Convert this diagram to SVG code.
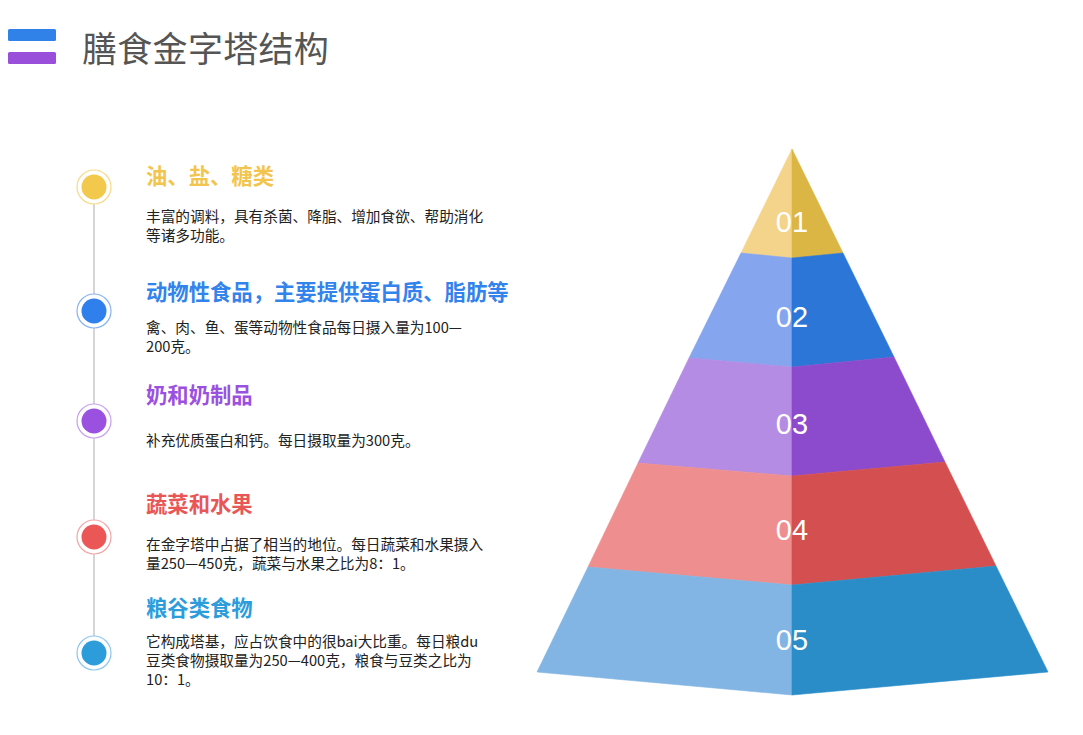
<svg xmlns="http://www.w3.org/2000/svg" width="1083" height="735" viewBox="0 0 1083 735">
<style>
.title{font-family:"Noto Sans CJK SC","Noto Sans CJK JP",serif;font-size:35px;fill:#555555;letter-spacing:0.3px;}
.head{font-family:"Noto Sans CJK SC",sans-serif;font-size:21.33px;font-weight:bold;}
.body{font-family:"Noto Sans CJK SC",sans-serif;font-size:14.67px;fill:#222222;}
.num{font-family:"Liberation Sans",Arial,sans-serif;font-size:29px;fill:#ffffff;text-anchor:middle;}
.ring{fill:#ffffff;stroke-width:1.2;}
.line{stroke:#c8c8c8;stroke-width:1.5;fill:none;}
.pl, .pr{stroke-width:0.6;stroke-linejoin:round;}
</style>
<rect width="1083" height="735" fill="#ffffff"/>
<g id="title">
  <rect x="8" y="29" width="48" height="12" rx="1.5" fill="#3182E8"/>
  <rect x="8" y="52" width="48" height="12" rx="1.5" fill="#9A4FDB"/>
  <text class="title" x="82" y="62">膳食金字塔结构</text>
</g>
<g id="connectors">
  <line class="line" x1="94" y1="186" x2="94" y2="653"/>
</g>
<g id="item1">
  <circle class="ring" cx="94" cy="187" r="17" stroke="#F6D98A"/>
  <circle cx="94" cy="187" r="12.5" fill="#F2C94C"/>
  <text class="head" x="146" y="184" fill="#F2C54E">油、盐、糖类</text>
  <text class="body" x="146"><tspan x="146" y="222">丰富的调料，具有杀菌、降脂、增加食欲、帮助消化</tspan><tspan x="146" y="241">等诸多功能。</tspan></text>
</g>
<g id="item2">
  <circle class="ring" cx="94" cy="311" r="17" stroke="#86B3F2"/>
  <circle cx="94" cy="311" r="12.5" fill="#2F80ED"/>
  <text class="head" x="146" y="300" fill="#3383EC">动物性食品，主要提供蛋白质、脂肪等</text>
  <text class="body"><tspan x="146" y="333">禽、肉、鱼、蛋等动物性食品每日摄入量为100—</tspan><tspan x="146" y="352">200克。</tspan></text>
</g>
<g id="item3">
  <circle class="ring" cx="94" cy="421" r="17" stroke="#C7A0EE"/>
  <circle cx="94" cy="421" r="12.5" fill="#9B51E0"/>
  <text class="head" x="146" y="403" fill="#9B51E0">奶和奶制品</text>
  <text class="body" x="146" y="446">补充优质蛋白和钙。每日摄取量为300克。</text>
</g>
<g id="item4">
  <circle class="ring" cx="94" cy="537" r="17" stroke="#F2A5A5"/>
  <circle cx="94" cy="537" r="12.5" fill="#EB5757"/>
  <text class="head" x="146" y="512" fill="#E85656">蔬菜和水果</text>
  <text class="body"><tspan x="146" y="550">在金字塔中占据了相当的地位。每日蔬菜和水果摄入</tspan><tspan x="146" y="569">量250—450克，蔬菜与水果之比为8：1。</tspan></text>
</g>
<g id="item5">
  <circle class="ring" cx="94" cy="653" r="17" stroke="#8CC6EC"/>
  <circle cx="94" cy="653" r="12.5" fill="#2D9CDB"/>
  <text class="head" x="146" y="616" fill="#2D9CDB">粮谷类食物</text>
  <text class="body"><tspan x="146" y="647">它构成塔基，应占饮食中的很bai大比重。每日粮du</tspan><tspan x="146" y="666">豆类食物摄取量为250—400克，粮食与豆类之比为</tspan><tspan x="146" y="685">10：1。</tspan></text>
</g>
<g id="pyramid-01">
  <polygon class="pl" points="792,149 741,253 792,258" fill="#F4D48A" stroke="#F4D48A"/>
  <polygon class="pr" points="792,149 843,253 792,258" fill="#DCB645" stroke="#DCB645"/>
  <text class="num" x="792" y="232">01</text>
</g>
<g id="pyramid-02">
  <polygon class="pl" points="741,253 792,258 792,367 689,358" fill="#85A5EE" stroke="#85A5EE"/>
  <polygon class="pr" points="843,253 792,258 792,367 894,357" fill="#2C76D8" stroke="#2C76D8"/>
  <text class="num" x="792" y="327">02</text>
</g>
<g id="pyramid-03">
  <polygon class="pl" points="689,358 792,367 792,476 638,463" fill="#B48CE4" stroke="#B48CE4"/>
  <polygon class="pr" points="894,357 792,367 792,476 945,462" fill="#8C4BCC" stroke="#8C4BCC"/>
  <text class="num" x="792" y="434">03</text>
</g>
<g id="pyramid-04">
  <polygon class="pl" points="638,463 792,476 792,585 588,567" fill="#EE8E8E" stroke="#EE8E8E"/>
  <polygon class="pr" points="945,462 792,476 792,585 996,566" fill="#D44F4F" stroke="#D44F4F"/>
  <text class="num" x="792" y="540">04</text>
</g>
<g id="pyramid-05">
  <polygon class="pl" points="588,567 792,585 792,695 537,672" fill="#82B5E3" stroke="#82B5E3"/>
  <polygon class="pr" points="996,566 792,585 792,695 1048,672" fill="#2A8DC8" stroke="#2A8DC8"/>
  <text class="num" x="792" y="650">05</text>
</g>
</svg>
